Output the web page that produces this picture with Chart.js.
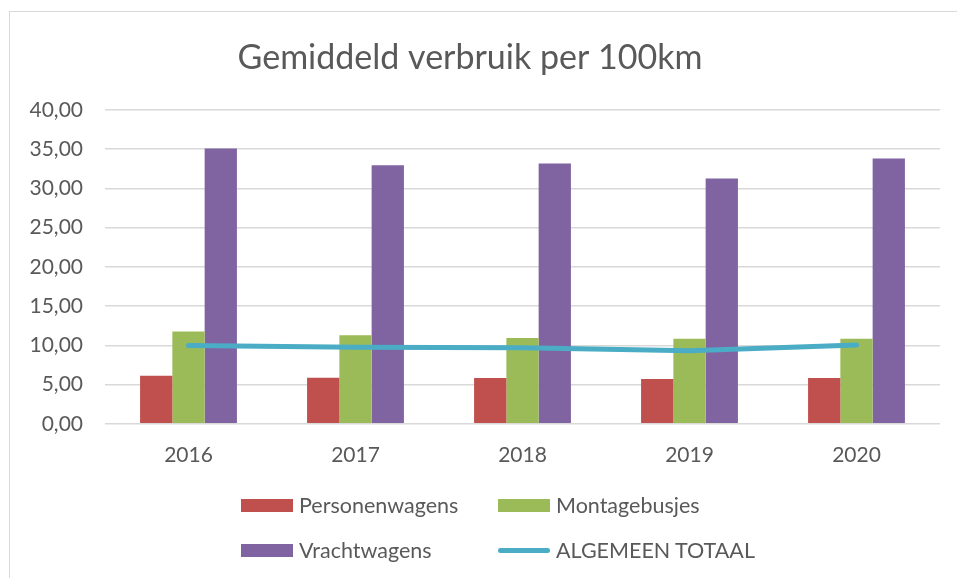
<!DOCTYPE html>
<html lang="nl">
<head>
    <meta charset="UTF-8">
    <title>Gemiddeld verbruik per 100km</title>
    <script src="https://cdn.jsdelivr.net/npm/chart.js"></script>
    <style>
        body {
            margin: 0;
            background: #ffffff;
            font-family: Lato, "Open Sans", sans-serif;
        }

        .frame {
            position: absolute;
            left: 9px;
            top: 11px;
            width: 980px;
            height: 600px;
            border: 1px solid #d9d9d9;
        }

        .chart-box {
            position: absolute;
            left: 0;
            top: 0;
            width: 957px;
            height: 493px;
        }

        .legend {
            position: absolute;
            left: 241px;
            top: 493px;
            display: grid;
            grid-template-columns: 257px 300px;
            row-gap: 21px;
            color: #595959;
            font-size: 21.5px;
            white-space: nowrap;
        }

        .legend-item {
            display: flex;
            align-items: center;
            height: 24px;
        }

        .swatch {
            width: 52px;
            height: 13px;
            margin-right: 6px;
            flex: none;
        }

        .swatch.line {
            height: 5px;
            border-radius: 3px;
        }
    </style>
</head>
<body>

    <div class="frame"></div>
    <div class="chart-box">
        <canvas id="verbruikChart"></canvas>
    </div>
    <div class="legend" id="legend"></div>

    <script>
        // Data
        const years = ["2016", "2017", "2018", "2019", "2020"];
        const personenwagens = [6.13, 5.87, 5.83, 5.71, 5.83];
        const montagebusjes = [11.75, 11.28, 10.94, 10.82, 10.82];
        const vrachtwagens = [35.08, 32.95, 33.16, 31.25, 33.80];
        const algemeenTotaal = [9.96, 9.74, 9.70, 9.32, 10.05];

        const textColor = "#595959";
        const gridColor = "#d9d9d9";
        const fontFamily = "Lato, 'Open Sans', sans-serif";

        const datasets = [
            { type: "bar", label: "Personenwagens", data: personenwagens, backgroundColor: "#c0504d", order: 1 },
            { type: "bar", label: "Montagebusjes", data: montagebusjes, backgroundColor: "#9bbb59", order: 1 },
            { type: "bar", label: "Vrachtwagens", data: vrachtwagens, backgroundColor: "#8064a2", order: 1 },
            {
                type: "line",
                label: "ALGEMEEN TOTAAL",
                data: algemeenTotaal,
                borderColor: "#4bacc6",
                backgroundColor: "#4bacc6",
                borderWidth: 5,
                borderCapStyle: "round",
                pointRadius: 0,
                tension: 0,
                order: 0
            }
        ];

        new Chart(document.getElementById("verbruikChart"), {
            data: { labels: years, datasets: datasets },
            options: {
                responsive: true,
                maintainAspectRatio: false,
                animation: false,
                layout: { padding: { left: 0, right: 17, top: 0, bottom: 14 } },
                datasets: {
                    bar: { barPercentage: 1, categoryPercentage: 0.58 }
                },
                plugins: {
                    legend: { display: false },
                    tooltip: { enabled: false },
                    title: {
                        display: true,
                        text: "Gemiddeld verbruik per 100km",
                        color: textColor,
                        font: { family: fontFamily, size: 34, weight: "normal" },
                        padding: { top: 38, bottom: 31 }
                    }
                },
                scales: {
                    x: {
                        grid: { display: false },
                        border: { display: false },
                        ticks: {
                            color: textColor,
                            padding: 11,
                            font: { family: fontFamily, size: 21 }
                        }
                    },
                    y: {
                        min: 0,
                        max: 40,
                        afterFit: axis => { axis.width = 105; },
                        grid: { color: gridColor, lineWidth: 1.5, drawTicks: false },
                        border: { display: false },
                        ticks: {
                            stepSize: 5,
                            color: textColor,
                            padding: 22,
                            font: { family: fontFamily, size: 21 },
                            callback: v => v.toFixed(2).replace(".", ",")
                        }
                    }
                }
            }
        });

        // Legend in two columns, like the original
        const legend = document.getElementById("legend");
        datasets.forEach(ds => {
            const item = document.createElement("div");
            item.className = "legend-item";
            const sw = document.createElement("span");
            sw.className = ds.type === "line" ? "swatch line" : "swatch";
            sw.style.background = ds.backgroundColor;
            const txt = document.createElement("span");
            txt.textContent = ds.label;
            item.appendChild(sw);
            item.appendChild(txt);
            legend.appendChild(item);
        });
    </script>

</body>
</html>
